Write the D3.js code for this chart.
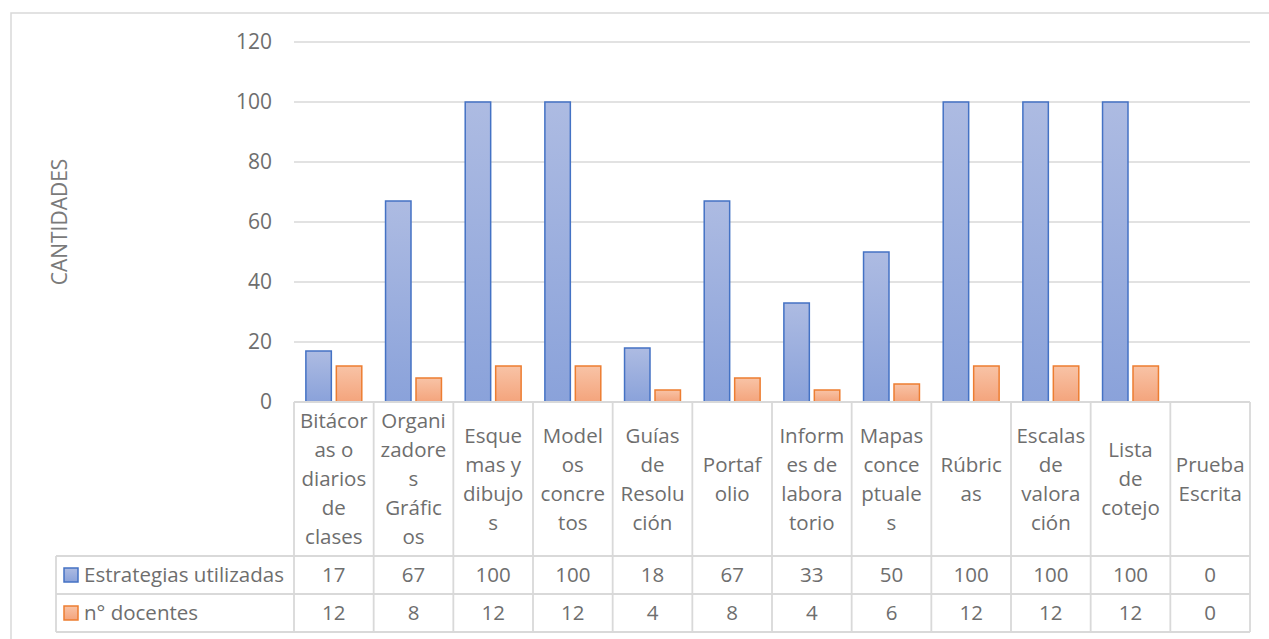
<!DOCTYPE html>
<html>
<head>
<meta charset="utf-8">
<script src="https://cdn.jsdelivr.net/npm/d3@7"></script>
<style>
  body { margin: 0; background: #fff; }
  svg text { font-family: "Open Sans", "Liberation Sans", sans-serif; fill: #6e6e6e; }
</style>
</head>
<body>
<div id="chart"></div>
<script>
// categories, already broken into lines the way the table wraps them
const categoryLines = [
    ["Bitácor", "as o", "diarios", "de", "clases"],
    ["Organi", "zadore", "s", "Gráfic", "os"],
    ["Esque", "mas y", "dibujo", "s"],
    ["Model", "os", "concre", "tos"],
    ["Guías", "de", "Resolu", "ción"],
    ["Portaf", "olio"],
    ["Inform", "es de", "labora", "torio"],
    ["Mapas", "conce", "ptuale", "s"],
    ["Rúbric", "as"],
    ["Escalas", "de", "valora", "ción"],
    ["Lista", "de", "cotejo"],
    ["Prueba", "Escrita"]
];
const seriesNames = ["Estrategias utilizadas", "n° docentes"];
const estrategias = [17, 67, 100, 100, 18, 67, 33, 50, 100, 100, 100, 0];
const docentes = [12, 8, 12, 12, 4, 8, 4, 6, 12, 12, 12, 0];
const yTicks = [0, 20, 40, 60, 80, 100, 120];

const width = 1269, height = 639;
const props = {
    plot: {left: 294, right: 1250, top: 42, bottom: 402},
    table: {legendLeft: 56, labelBottom: 556, row1Bottom: 594, row2Bottom: 632},
    grid: "#d9d9d9",
    fontSize: 20.5,
    lineHeight: 29,
    colors: [
        {stroke: "#4472c4", top: "#adbbe2", bottom: "#8aa2da"},
        {stroke: "#ed7d31", top: "#f8c3a6", bottom: "#f4a47c"}
    ]
};

const categories = categoryLines.map((c) => c.join(" "));
const seriesValues = [estrategias, docentes];

const svg = d3.select("#chart").append("svg")
    .attr("width", width)
    .attr("height", height);

const defs = svg.append("defs");
props.colors.forEach((c, i) => {
    const g = defs.append("linearGradient")
        .attr("id", `grad${i}`)
        .attr("x1", 0).attr("y1", 0).attr("x2", 0).attr("y2", 1);
    g.append("stop").attr("offset", "0%").attr("stop-color", c.top);
    g.append("stop").attr("offset", "100%").attr("stop-color", c.bottom);
});

// outer chart frame (right and bottom edges fall outside the picture)
svg.append("rect")
    .attr("x", 11).attr("y", 13)
    .attr("width", 1300).attr("height", 700)
    .attr("fill", "none")
    .attr("stroke", "#d9d9d9")
    .attr("stroke-width", 1.5);

const x0 = d3.scaleBand()
    .domain(categories)
    .range([props.plot.left, props.plot.right]);

const x1 = d3.scaleBand()
    .domain(seriesNames)
    .range([0, x0.bandwidth()])
    .paddingInner(0.164)
    .paddingOuter(0.39);

const y = d3.scaleLinear()
    .domain([0, 120])
    .range([props.plot.bottom, props.plot.top]);

// gridlines
svg.append("g")
    .selectAll("line")
    .data(yTicks.filter((t) => t > 0))
    .join("line")
    .attr("x1", props.plot.left)
    .attr("x2", props.plot.right)
    .attr("y1", (d) => y(d))
    .attr("y2", (d) => y(d))
    .attr("stroke", props.grid)
    .attr("stroke-width", 1.5);

// y axis labels
const yAxis = svg.append("g")
    .attr("transform", `translate(${props.plot.left},0)`)
    .call(d3.axisLeft(y).tickValues(yTicks).tickSize(0).tickPadding(22));
yAxis.select(".domain").remove();
yAxis.attr("font-family", null).attr("font-size", null);
yAxis.selectAll("text")
    .style("font-size", "21px")
    .style("fill", "#6e6e6e");

// axis title
svg.append("text")
    .attr("transform", `translate(67,${(props.plot.top + props.plot.bottom) / 2}) rotate(-90)`)
    .attr("text-anchor", "middle")
    .style("font-size", "21px")
    .style("fill", "#7a7a7a")
    .text("CANTIDADES");

// bars
const catGroups = svg.append("g")
    .selectAll("g")
    .data(categories)
    .join("g")
    .attr("transform", (d) => `translate(${x0(d)},0)`);

catGroups.selectAll("rect")
    .data((d, i) => seriesNames.map((s, k) => ({series: s, k, value: seriesValues[k][i]})).filter((b) => b.value > 0))
    .join("rect")
    .attr("x", (d) => x1(d.series))
    .attr("width", x1.bandwidth())
    .attr("y", (d) => y(d.value))
    .attr("height", (d) => y(0) - y(d.value))
    .attr("fill", (d) => `url(#grad${d.k})`)
    .attr("stroke", (d) => props.colors[d.k].stroke)
    .attr("stroke-width", 1.5);

// data table
const tbl = svg.append("g");
const lineAttrs = (sel) => sel.attr("stroke", props.grid).attr("stroke-width", 1.8).attr("fill", "none");

// horizontal lines
tbl.append("line").call(lineAttrs)
    .attr("x1", props.plot.left).attr("x2", props.plot.right)
    .attr("y1", props.plot.bottom).attr("y2", props.plot.bottom);
[props.table.labelBottom, props.table.row1Bottom, props.table.row2Bottom].forEach((yy) => {
    tbl.append("line").call(lineAttrs)
        .attr("x1", props.table.legendLeft).attr("x2", props.plot.right)
        .attr("y1", yy).attr("y2", yy);
});
// vertical lines
tbl.append("line").call(lineAttrs)
    .attr("x1", props.table.legendLeft).attr("x2", props.table.legendLeft)
    .attr("y1", props.table.labelBottom).attr("y2", props.table.row2Bottom);
categories.concat([null]).forEach((c) => {
    const xx = c === null ? props.plot.right : x0(c);
    tbl.append("line").call(lineAttrs)
        .attr("x1", xx).attr("x2", xx)
        .attr("y1", props.plot.bottom).attr("y2", props.table.row2Bottom);
});

// category labels
const labelMid = (props.plot.bottom + props.table.labelBottom) / 2;
tbl.append("g")
    .selectAll("text")
    .data(categoryLines)
    .join("text")
    .attr("text-anchor", "middle")
    .attr("font-size", props.fontSize)
    .attr("x", (d, i) => x0(categories[i]) + x0.bandwidth() / 2)
    .attr("y", (d) => labelMid - (d.length - 1) * props.lineHeight / 2)
    .each(function (d) {
        d3.select(this).selectAll("tspan")
            .data(d)
            .join("tspan")
            .attr("x", d3.select(this).attr("x"))
            .attr("dy", (t, j) => j === 0 ? "0.35em" : props.lineHeight)
            .text((t) => t);
    });

// value rows with legend keys
const rowMids = [
    (props.table.labelBottom + props.table.row1Bottom) / 2,
    (props.table.row1Bottom + props.table.row2Bottom) / 2
];
seriesNames.forEach((s, k) => {
    const row = tbl.append("g");
    row.append("rect")
        .attr("x", 64).attr("y", rowMids[k] - 7)
        .attr("width", 14).attr("height", 14)
        .attr("fill", `url(#grad${k})`)
        .attr("stroke", props.colors[k].stroke)
        .attr("stroke-width", 1.5);
    row.append("text")
        .attr("x", 84).attr("y", rowMids[k])
        .attr("dy", "0.35em")
        .attr("font-size", props.fontSize)
        .text(s);
    row.selectAll(".val")
        .data(seriesValues[k])
        .join("text")
        .attr("class", "val")
        .attr("text-anchor", "middle")
        .attr("x", (d, i) => x0(categories[i]) + x0.bandwidth() / 2)
        .attr("y", rowMids[k])
        .attr("dy", "0.35em")
        .attr("font-size", props.fontSize)
        .text((d) => d);
});
</script>
</body>
</html>
